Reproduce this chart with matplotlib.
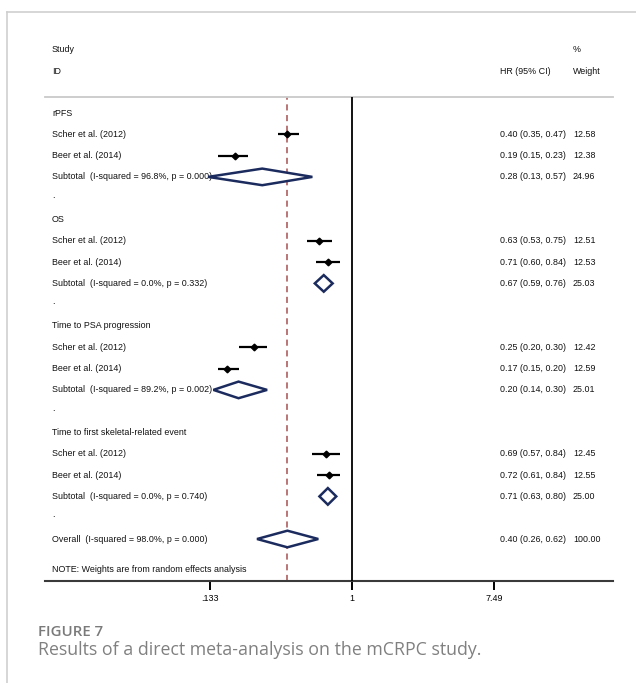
import math
import matplotlib
matplotlib.use("Agg")
import matplotlib.pyplot as plt
from matplotlib.lines import Line2D
from matplotlib.patches import Polygon

plt.rcParams['font.family'] = ['Liberation Sans', 'DejaVu Sans']

# ---------------- data ----------------
groups = ["rPFS", "OS", "Time to PSA progression", "Time to first skeletal-related event"]
studies = ["Scher et al. (2012)", "Beer et al. (2014)"]
hr = [[0.40, 0.19], [0.63, 0.71], [0.25, 0.17], [0.69, 0.72]]
lo = [[0.35, 0.15], [0.53, 0.60], [0.20, 0.15], [0.57, 0.61]]
hi = [[0.47, 0.23], [0.75, 0.84], [0.30, 0.20], [0.84, 0.84]]
wt = [[12.58, 12.38], [12.51, 12.53], [12.42, 12.59], [12.45, 12.55]]
sub_i2 = [96.8, 0.0, 89.2, 0.0]
sub_p = [0.000, 0.332, 0.002, 0.740]
sub_hr = [0.28, 0.67, 0.20, 0.71]
sub_lo = [0.13, 0.59, 0.14, 0.63]
sub_hi = [0.57, 0.76, 0.30, 0.80]
sub_wt = [24.96, 25.03, 25.01, 25.00]
overall_i2 = 98.0
overall_p = 0.000
overall_hr = 0.40
overall_lo = 0.26
overall_hi = 0.62
overall_wt = 100.00
tick_vals = [0.133, 1, 7.49]
tick_labels = [".133", "1", "7.49"]

# ---------------- layout ----------------
W, H = 636, 683
DPI = 100
fig = plt.figure(figsize=(W / DPI, H / DPI), dpi=DPI)

ax_l, ax_r, ax_t, ax_b = 45, 613, 97, 581
ax = fig.add_axes([ax_l / W, 1 - ax_b / H, (ax_r - ax_l) / W, (ax_b - ax_t) / H])

row0, step = 113, 21.3
ax.set_ylim((ax_b - row0) / step, (ax_t - row0) / step)
ax.set_xscale('log')
ppl = 70.5  # pixels per ln unit
x1px = 352
ax.set_xlim(math.exp((ax_l - x1px) / ppl), math.exp((ax_r - x1px) / ppl))

FS = 6.4
navy = '#1c2b5e'
x_lab = (52 - ax_l) / (ax_r - ax_l)
x_hr = (500 - ax_l) / (ax_r - ax_l)
x_wt = (573 - ax_l) / (ax_r - ax_l)
tr = ax.get_yaxis_transform()

def txt(xf, y, s):
    ax.text(xf, y, s, transform=tr, fontsize=FS, va='center', ha='left', clip_on=False,
            color='#111111')

# headers
txt(x_lab, -3.0, "Study")
txt(x_lab, -1.97, "ID")
txt(x_hr, -1.97, "HR (95% CI)")
txt(x_wt, -3.0, "%")
txt(x_wt, -1.97, "Weight")

def diamond(y, e, l, h):
    d = 0.39
    poly = Polygon([(l, y), (e, y - d), (h, y), (e, y + d)], closed=True,
                   facecolor='white', edgecolor=navy, lw=1.8, zorder=4)
    ax.add_patch(poly)

row = 0
for g in range(len(groups)):
    txt(x_lab, row, groups[g])
    row += 1
    for s in range(len(studies)):
        txt(x_lab, row, studies[s])
        ax.plot([lo[g][s], hi[g][s]], [row, row], color='black', lw=1.6, zorder=4,
                solid_capstyle='butt')
        ax.plot([hr[g][s]], [row], marker='D', color='black', ms=3.4, zorder=5)
        txt(x_hr, row, f"{hr[g][s]:.2f} ({lo[g][s]:.2f}, {hi[g][s]:.2f})")
        txt(x_wt, row, f"{wt[g][s]:.2f}")
        row += 1
    txt(x_lab, row, f"Subtotal  (I-squared = {sub_i2[g]:.1f}%, p = {sub_p[g]:.3f})")
    diamond(row, sub_hr[g], sub_lo[g], sub_hi[g])
    txt(x_hr, row, f"{sub_hr[g]:.2f} ({sub_lo[g]:.2f}, {sub_hi[g]:.2f})")
    txt(x_wt, row, f"{sub_wt[g]:.2f}")
    row += 1
    txt(x_lab, row - 0.15, ".")
    row += 1

txt(x_lab, row, f"Overall  (I-squared = {overall_i2:.1f}%, p = {overall_p:.3f})")
diamond(row, overall_hr, overall_lo, overall_hi)
txt(x_hr, row, f"{overall_hr:.2f} ({overall_lo:.2f}, {overall_hi:.2f})")
txt(x_wt, row, f"{overall_wt:.2f}")
txt(x_lab, (570 - row0) / step, "NOTE: Weights are from random effects analysis")

ax.axvline(1, color='black', lw=1.3, zorder=3)
ax.axvline(overall_hr, color='#a5504f', lw=1.1, dashes=(4, 3), zorder=2)

for sp in ['left', 'right']:
    ax.spines[sp].set_visible(False)
ax.spines['top'].set_color('#c9c9c9')
ax.spines['top'].set_linewidth(1.3)
ax.spines['bottom'].set_color('#3a3a3a')
ax.spines['bottom'].set_linewidth(1.5)
ax.set_yticks([])
ax.set_xticks(tick_vals)
ax.set_xticklabels(tick_labels)
ax.xaxis.set_minor_locator(matplotlib.ticker.NullLocator())
ax.tick_params(axis='x', direction='out', length=6.5, width=1.4, color='black',
               labelsize=FS, pad=3)

# card frame
fig.add_artist(Line2D([7 / W, 1], [1 - 12 / H, 1 - 12 / H], color='#cfcfcf', lw=1.2))
fig.add_artist(Line2D([7 / W, 7 / W], [0, 1 - 12 / H], color='#cfcfcf', lw=1.2))

fig.text(38 / W, 1 - 636 / H, "FIGURE 7", family='Open Sans', fontsize=10.8,
         weight='semibold', color='#7a7a7a', va='baseline', ha='left')
fig.text(38 / W, 1 - 655 / H, "Results of a direct meta-analysis on the mCRPC study.",
         family='Open Sans', fontsize=12.8, color='#808080', va='baseline', ha='left')

fig.savefig("out.png", dpi=DPI, facecolor='white')
